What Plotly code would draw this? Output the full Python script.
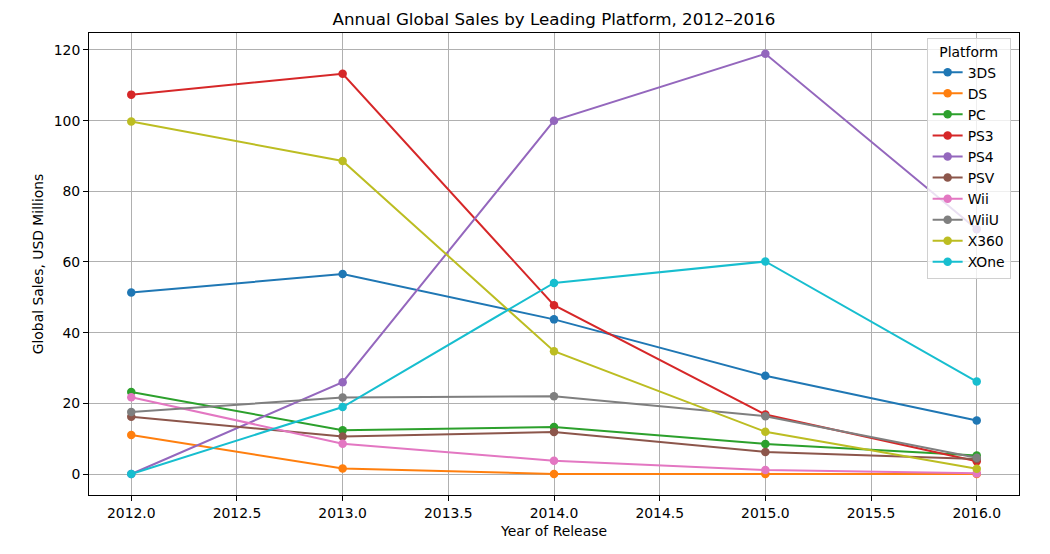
import plotly.graph_objects as go

years = [2012, 2013, 2014, 2015, 2016]
platforms = ["3DS", "DS", "PC", "PS3", "PS4", "PSV", "Wii", "WiiU", "X360", "XOne"]
sales_3ds = [51.36, 56.57, 43.76, 27.78, 15.14]
sales_ds = [11.01, 1.54, 0.02, 0.0, 0.0]
sales_pc = [23.22, 12.38, 13.28, 8.52, 5.25]
sales_ps3 = [107.36, 113.25, 47.76, 16.82, 3.60]
sales_ps4 = [0.0, 25.99, 100.00, 118.90, 69.25]
sales_psv = [16.19, 10.59, 11.90, 6.25, 4.25]
sales_wii = [21.71, 8.59, 3.75, 1.14, 0.18]
sales_wiiu = [17.56, 21.65, 22.03, 16.35, 4.60]
sales_x360 = [99.74, 88.58, 34.74, 11.96, 1.52]
sales_xone = [0.0, 18.96, 54.07, 60.14, 26.15]
series = [sales_3ds, sales_ds, sales_pc, sales_ps3, sales_ps4,
          sales_psv, sales_wii, sales_wiiu, sales_x360, sales_xone]
colors = ["#1f77b4", "#ff7f0e", "#2ca02c", "#d62728", "#9467bd",
          "#8c564b", "#e377c2", "#7f7f7f", "#bcbd22", "#17becf"]
x_ticks = [2012.0, 2012.5, 2013.0, 2013.5, 2014.0, 2014.5, 2015.0, 2015.5, 2016.0]
y_ticks = [0, 20, 40, 60, 80, 100, 120]

fig = go.Figure()
for name, vals, c in zip(platforms, series, colors):
    fig.add_trace(go.Scatter(
        x=years, y=vals, name=name, mode="lines+markers",
        line=dict(color=c, width=2),
        marker=dict(color=c, size=8.5),
    ))

FS = 13.9
axis_common = dict(
    showgrid=True, gridcolor="#b0b0b0", gridwidth=1,
    showline=True, linecolor="black", linewidth=1, mirror=True,
    ticks="outside", ticklen=5, tickcolor="black", tickwidth=1,
    zeroline=False,
    tickfont=dict(family="DejaVu Sans", size=FS, color="black"),
    title_font=dict(family="DejaVu Sans", size=FS, color="black"),
)

fig.update_layout(
    width=1050, height=554,
    margin=dict(l=89, r=31, t=33, b=59),
    paper_bgcolor="white", plot_bgcolor="white",
    title=dict(text="Annual Global Sales by Leading Platform, 2012–2016",
               x=0.5, xref="paper", xanchor="center", y=0.965, yanchor="middle",
               font=dict(family="DejaVu Sans", size=16.7, color="black")),
    xaxis=dict(range=[2011.8, 2016.2], tickvals=x_ticks,
               ticktext=[f"{t:.1f}" for t in x_ticks],
               title=dict(text="Year of Release", standoff=6), **axis_common),
    yaxis=dict(range=[-5.94, 124.8], tickvals=y_ticks,
               ticktext=[str(t) for t in y_ticks],
               title=dict(text="Global Sales, USD Millions", standoff=6), **axis_common),
    legend=dict(
        title=dict(text="Platform", side="top center",
                   font=dict(family="DejaVu Sans", size=FS, color="black")),
        x=0.991, y=0.99, xanchor="right", yanchor="top",
        bgcolor="rgba(255,255,255,0.8)", bordercolor="#d0d0d0", borderwidth=1,
        font=dict(family="DejaVu Sans", size=FS, color="black"),
        itemwidth=30,
    ),
    showlegend=True,
)

fig.write_html("out.html")
